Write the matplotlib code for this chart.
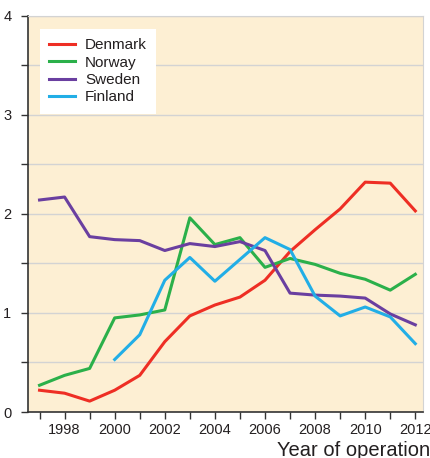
import matplotlib
matplotlib.use("Agg")
import matplotlib.pyplot as plt
from matplotlib.ticker import MultipleLocator

plt.rcParams['font.family'] = ['Liberation Sans', 'DejaVu Sans']

# данные
years = list(range(1997, 2013))
denmark = [0.22, 0.19, 0.11, 0.22, 0.37, 0.71, 0.97, 1.08, 1.16, 1.33, 1.62, 1.84, 2.05, 2.32, 2.31, 2.03]
norway = [0.27, 0.37, 0.44, 0.95, 0.98, 1.03, 1.96, 1.69, 1.76, 1.46, 1.55, 1.49, 1.40, 1.34, 1.23, 1.39]
sweden = [2.14, 2.17, 1.77, 1.74, 1.73, 1.63, 1.70, 1.67, 1.72, 1.63, 1.20, 1.18, 1.17, 1.15, 0.99, 0.88]
finland_years = list(range(2000, 2013))
finland = [0.53, 0.78, 1.33, 1.56, 1.32, 1.54, 1.76, 1.64, 1.17, 0.97, 1.06, 0.96, 0.69]

colors = {'Denmark': '#EE2E24', 'Norway': '#2BB04A', 'Sweden': '#6A3FA0', 'Finland': '#22AEE6'}
ink = '#231F20'

fig = plt.figure(figsize=(4.31, 4.58), dpi=100)
ax = fig.add_axes([0.065, 0.1004, 0.916, 0.8653])
ax.set_facecolor('#FDEFD3')

ax.plot(years, denmark, color=colors['Denmark'], lw=2.2, label='Denmark')
ax.plot(years, norway, color=colors['Norway'], lw=2.2, label='Norway')
ax.plot(years, sweden, color=colors['Sweden'], lw=2.2, label='Sweden')
ax.plot(finland_years, finland, color=colors['Finland'], lw=2.2, label='Finland')

ax.set_xlim(1996.54, 2012.3)
ax.set_ylim(0, 4)

ax.xaxis.set_minor_locator(MultipleLocator(1))
ax.yaxis.set_major_locator(MultipleLocator(1))
ax.yaxis.set_minor_locator(MultipleLocator(0.5))
ax.set_xticks(range(1998, 2013, 2))

ax.grid(True, which='both', axis='y', color='#D3D3D3', lw=1)
ax.set_axisbelow(True)

for side in ['top', 'right']:
    ax.spines[side].set_color('#D3D3D3')
for side in ['left', 'bottom']:
    ax.spines[side].set_color('#333333')
    ax.spines[side].set_linewidth(1.2)

ax.tick_params(which='both', direction='out', length=5, width=1, color='#333333',
               labelsize=10.5, labelcolor=ink)
ax.tick_params(axis='y', pad=7)
ax.tick_params(axis='x', pad=3)

leg = ax.legend(loc='upper left', bbox_to_anchor=(0.03, 0.966), borderaxespad=0,
                fancybox=False, framealpha=1, edgecolor='none', fontsize=11,
                handlelength=1.7, handletextpad=0.65, labelspacing=0.22,
                borderpad=0.6)
for t in leg.get_texts():
    t.set_color(ink)

# подпись оси X обрезана справа, как в оригинале
fig.text(277 / 431, 1 - 456 / 458, 'Year of operation', fontsize=14.5, color=ink,
         ha='left', va='baseline')

fig.savefig('out.png', dpi=100)
